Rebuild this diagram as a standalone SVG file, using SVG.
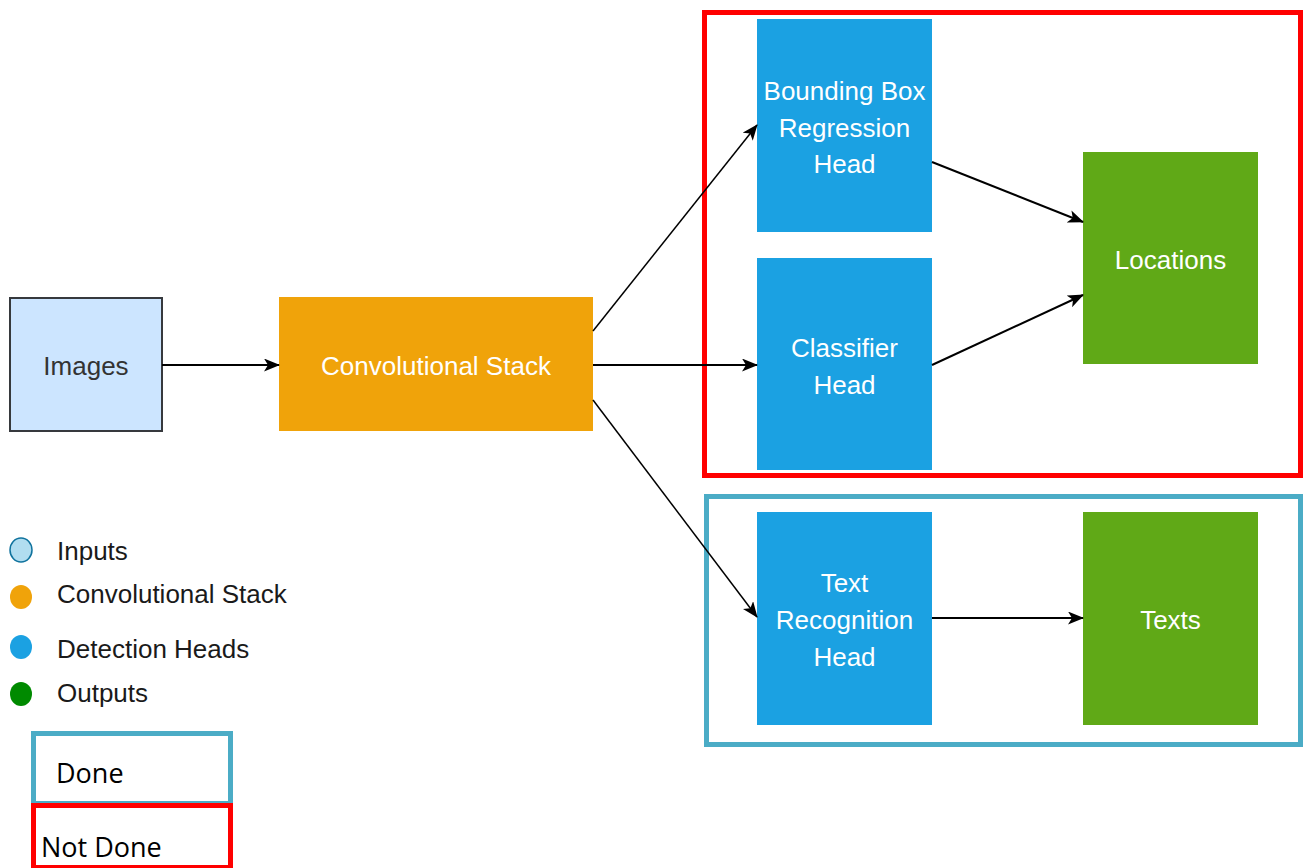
<svg xmlns="http://www.w3.org/2000/svg" width="1306" height="868" viewBox="0 0 1306 868">
  <defs>
    <marker id="arrow" viewBox="0 0 16 13" refX="15" refY="6.5" markerWidth="16" markerHeight="13" markerUnits="userSpaceOnUse" orient="auto">
      <path d="M0,0 L16,6.5 L0,13 L4,6.5 Z" fill="#000"/>
    </marker>
    <style>
      .node-text { font-family: "Liberation Sans", Arial, sans-serif; font-size: 26px; fill: #ffffff; text-anchor: middle; }
      .legend-text { font-family: "Liberation Sans", Arial, sans-serif; font-size: 26px; fill: #1a1a1a; }
      .key-text { font-family: "Open Sans", "Liberation Sans", sans-serif; font-size: 27px; fill: #000; }
      .edge { fill: none; stroke: #000; stroke-width: 2; marker-end: url(#arrow); }
      .head { fill: #1ba1e2; }
      .output { fill: #60a917; }
    </style>
  </defs>
  <rect width="1306" height="868" fill="#ffffff"/>

  <!-- status frames -->
  <g id="frame-not-done">
    <rect x="704.5" y="12.5" width="596" height="463" fill="none" stroke="#ff0000" stroke-width="5"/>
  </g>
  <g id="frame-done">
    <rect x="706.5" y="496.5" width="594" height="248" fill="none" stroke="#4bacc6" stroke-width="5"/>
  </g>

  <!-- nodes -->
  <g id="images">
    <rect x="10" y="298" width="152" height="133" fill="#cce5ff" stroke="#36393d" stroke-width="2"/>
    <text x="86" y="375" class="node-text" style="fill:#333333">Images</text>
  </g>
  <g id="conv-stack">
    <rect x="279" y="297" width="314" height="134" fill="#f0a30a"/>
    <text x="436" y="375" class="node-text">Convolutional Stack</text>
  </g>
  <g id="bbox-head">
    <rect x="757" y="19" width="175" height="213" class="head"/>
    <text class="node-text"><tspan x="844.5" y="100">Bounding Box</tspan><tspan x="844.5" y="137">Regression</tspan><tspan x="844.5" y="173">Head</tspan></text>
  </g>
  <g id="classifier-head">
    <rect x="757" y="258" width="175" height="212" class="head"/>
    <text class="node-text"><tspan x="844.5" y="357">Classifier</tspan><tspan x="844.5" y="394">Head</tspan></text>
  </g>
  <g id="text-recognition-head">
    <rect x="757" y="512" width="175" height="213" class="head"/>
    <text class="node-text"><tspan x="844.5" y="592">Text</tspan><tspan x="844.5" y="629">Recognition</tspan><tspan x="844.5" y="666">Head</tspan></text>
  </g>
  <g id="locations">
    <rect x="1083" y="152" width="175" height="212" class="output"/>
    <text x="1170.5" y="269" class="node-text">Locations</text>
  </g>
  <g id="texts">
    <rect x="1083" y="512" width="175" height="213" class="output"/>
    <text x="1170.5" y="629" class="node-text">Texts</text>
  </g>

  <!-- connectors -->
  <g id="connectors">
    <line x1="162" y1="365" x2="279" y2="365" class="edge"/>
    <line x1="593" y1="331" x2="757" y2="125" class="edge" style="stroke-width:1.5"/>
    <line x1="593" y1="365" x2="757" y2="365" class="edge"/>
    <line x1="593" y1="400" x2="757" y2="617" class="edge" style="stroke-width:1.5"/>
    <line x1="932" y1="162" x2="1083" y2="222" class="edge"/>
    <line x1="932" y1="365" x2="1083" y2="295" class="edge"/>
    <line x1="932" y1="618" x2="1083" y2="618" class="edge"/>
  </g>

  <!-- colour legend -->
  <g id="legend">
    <ellipse cx="21" cy="550" rx="11" ry="12" fill="#b1ddf0" stroke="#10739e" stroke-width="1.5"/>
    <text x="57" y="560" class="legend-text">Inputs</text>
    <ellipse cx="21" cy="597" rx="11" ry="12" fill="#f0a30a"/>
    <text x="57" y="603" class="legend-text">Convolutional Stack</text>
    <ellipse cx="21" cy="647" rx="11" ry="12" fill="#1ba1e2"/>
    <text x="57" y="658" class="legend-text">Detection Heads</text>
    <ellipse cx="21" cy="694" rx="11" ry="12" fill="#008a00"/>
    <text x="57" y="702" class="legend-text">Outputs</text>
  </g>

  <!-- status key -->
  <g id="key-done">
    <rect x="33.5" y="733.5" width="197" height="70" fill="#ffffff" stroke="#4bacc6" stroke-width="5"/>
    <text x="56" y="783" class="key-text">Done</text>
  </g>
  <g id="key-not-done">
    <rect x="33.5" y="805.5" width="197" height="62" fill="#ffffff" stroke="#ff0000" stroke-width="5"/>
    <text x="41" y="857" class="key-text">Not Done</text>
  </g>
</svg>
